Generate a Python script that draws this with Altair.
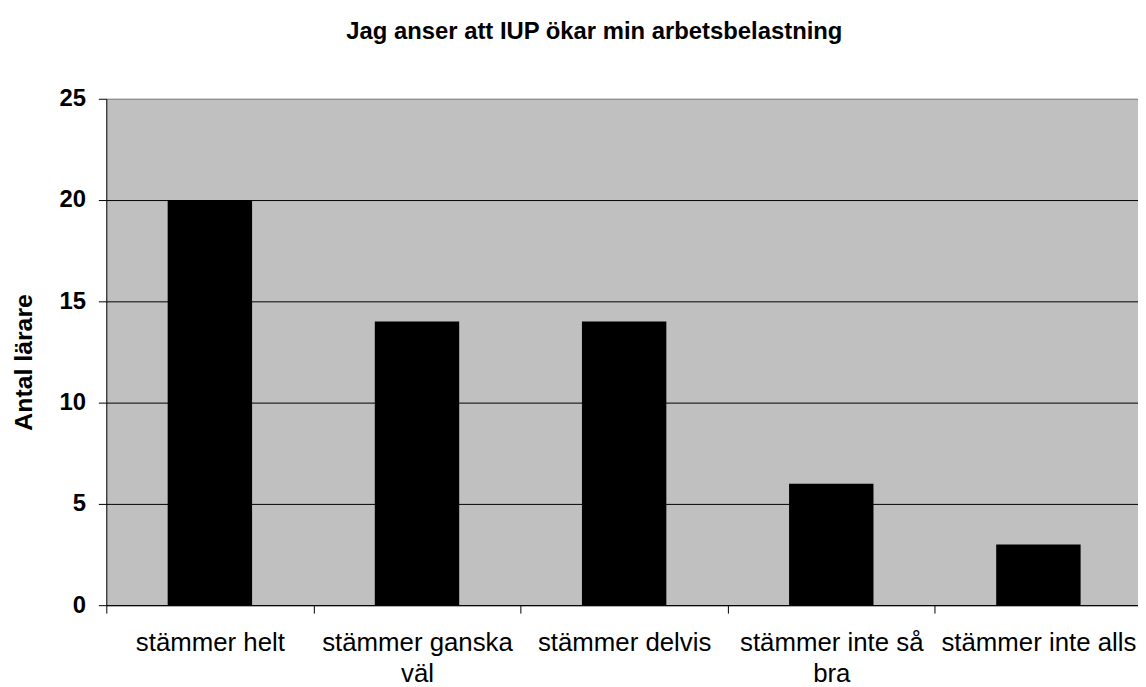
import altair as alt
import pandas as pd

categories = ["stämmer helt", "stämmer ganska väl", "stämmer delvis", "stämmer inte så bra", "stämmer inte alls"]
label_lines = [["stämmer helt"], ["stämmer ganska", "väl"], ["stämmer delvis"], ["stämmer inte så", "bra"], ["stämmer inte alls"]]
values = [20, 14, 14, 6, 3]
y_ticks = [0, 5, 10, 15, 20, 25]

df = pd.DataFrame({"kategori": categories, "antal": values})

label_map = {c: l for c, l in zip(categories, label_lines)}
label_expr = "{" + ", ".join(
    "'%s': [%s]" % (c, ", ".join("'%s'" % s for s in l)) for c, l in label_map.items()
) + "}[datum.label]"

FONT = "Liberation Sans"

chart = alt.Chart(df).mark_bar(size=85, color="black").encode(
    x=alt.X(
        "kategori:N",
        sort=categories,
        scale=alt.Scale(paddingInner=0, paddingOuter=0, range=[0, 1043]),
        axis=alt.Axis(
            title=None,
            labelAngle=0,
            labelExpr=label_expr,
            labelFont=FONT,
            labelFontSize=26,
            labelColor="black",
            labelPadding=17,
            labelLineHeight=31,
            labelBaseline="top",
            labelLimit=0,
            tickBand="extent",
            tickSize=8,
            tickColor="black",
            domainColor="black",
            grid=False,
        ),
    ),
    y=alt.Y(
        "antal:Q",
        scale=alt.Scale(domain=[0, 25], nice=False),
        axis=alt.Axis(
            title="Antal lärare",
            titleFont=FONT,
            titleFontSize=25,
            titleFontWeight="bold",
            titleColor="black",
            titleBaseline="alphabetic",
            titleX=-75,
            titleY=265,
            titleAlign="center",
            titleAngle=270,
            values=y_ticks,
            labelFont=FONT,
            labelFontSize=24,
            labelFontWeight="bold",
            labelColor="black",
            labelPadding=13,
            tickSize=8,
            tickColor="black",
            domainColor="black",
            grid=True,
            gridColor=alt.condition("datum.value == 25", alt.value("#808080"), alt.value("black")),
            gridOpacity=1,
        ),
    ),
).properties(
    width=1039,
    height=510,
    title=alt.TitleParams(
        text="Jag anser att IUP ökar min arbetsbelastning",
        font=FONT,
        fontSize=24,
        fontWeight="bold",
        color="black",
        anchor="middle",
        dx=-28,
        offset=43,
    ),
    autosize=alt.AutoSizeParams(type="none"),
    padding={"left": 99, "top": 89, "right": 0, "bottom": 82},
    background="white",
).configure_view(
    fill="#C0C0C0",
    stroke=None,
)

chart.save("out.html", embed_options={"renderer": "svg", "actions": False})
